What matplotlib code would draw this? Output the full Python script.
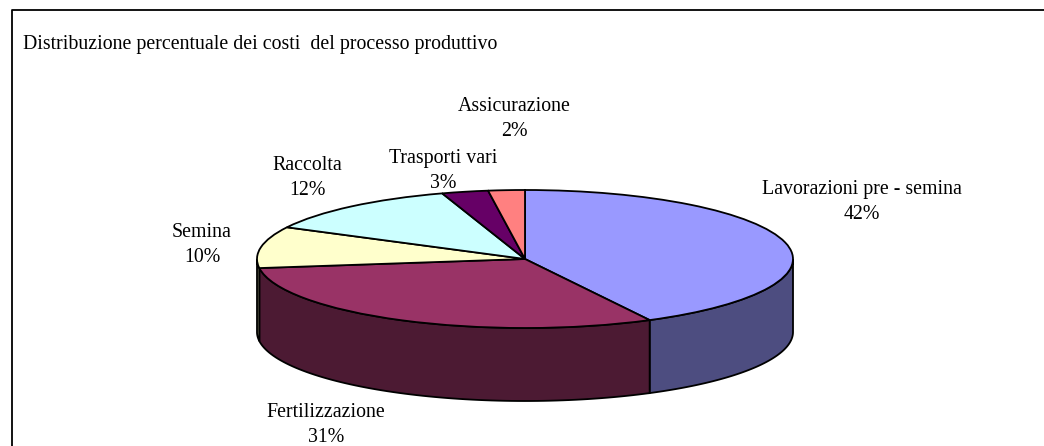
import numpy as np
import matplotlib
matplotlib.use('Agg')
import matplotlib.pyplot as plt

W, H = 1044, 446

categories = ['Lavorazioni pre - semina', 'Fertilizzazione', 'Semina', 'Raccolta', 'Trasporti vari', 'Assicurazione']
values = [42.3, 30.6, 9.7, 12.4, 2.8, 2.2]
top_colors = ['#9999FF', '#993366', '#FFFFCC', '#CCFFFF', '#660066', '#FF8080']
side_colors = ['#4D4D80', '#4C1A33', '#808066', '#668080', '#330033', '#804040']
label_centers = [(862, 202), (326, 425), (202, 245), (307, 178), (443, 171), (514, 119)]

plt.rcParams['font.family'] = ['Liberation Serif', 'DejaVu Serif']

fig = plt.figure(figsize=(W / 100, H / 100), dpi=100)
ax = fig.add_axes([0, 0, 1, 1])

# la torta vera, schiacciata dopo con i limiti degli assi
wedges, _ = ax.pie(values, colors=top_colors, startangle=90, counterclock=False,
                   wedgeprops={'edgecolor': 'black', 'linewidth': 1.3, 'zorder': 3})

# pixel -> dati: centro (525, 259), raggi 268 x 69
cx, cy, rx, ry = 525, 259, 268, 69
ax.set_aspect('auto')
ax.set_xlim(-cx / rx, (W - cx) / rx)
ax.set_ylim((cy - H) / ry, cy / ry)
ax.axis('off')

# parete laterale: solo la meta' davanti dell'ellisse
depth = 73 / ry
edges = np.cumsum([0] + values) / sum(values) * 360
for i in range(len(values)):
    start = max(edges[i], 90)
    end = min(edges[i + 1], 270)
    if end <= start:
        continue
    t = np.radians(np.linspace(start, end, 80))
    xs = np.sin(t)
    ys = np.cos(t)
    ax.fill(np.r_[xs, xs[::-1]], np.r_[ys, ys[::-1] - depth],
            facecolor=side_colors[i], edgecolor='black', linewidth=1.3, zorder=2)

# cornice: niente lato destro ne' lato basso, come nell'originale
fig.add_artist(plt.Line2D([11.5 / W, 11.5 / W, 1], [0, 1 - 10 / H, 1 - 10 / H],
                          color='black', linewidth=1.3))

fig.text(23 / W, 1 - 44 / H, 'Distribuzione percentuale dei costi  del processo produttivo',
         fontsize=14.3, va='center', ha='left')

for name, val, (lx, ly) in zip(categories, values, label_centers):
    fig.text(lx / W, 1 - ly / H, f'{name}\n{val:.0f}%', fontsize=14.3, ha='center', va='center',
             linespacing=1.46)

fig.savefig('out.png', dpi=100, facecolor='white')
plt.close(fig)
